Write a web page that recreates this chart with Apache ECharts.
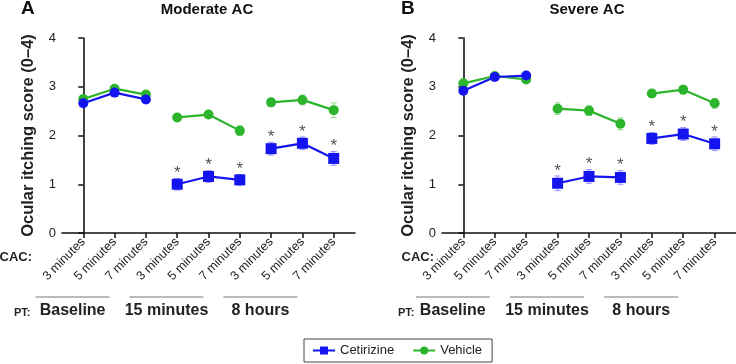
<!DOCTYPE html>
<html>
<head>
<meta charset="utf-8">
<script src="https://cdn.jsdelivr.net/npm/echarts@6/dist/echarts.min.js"></script>
<style>
html, body { margin: 0; padding: 0; background: #fff; }
#main { width: 736px; height: 364px; }
</style>
</head>
<body>
<div id="main"></div>
<script>
// CAC time points (x axis) and the PT groups they belong to
var cacLabels = ['3 minutes', '5 minutes', '7 minutes', '3 minutes', '5 minutes', '7 minutes', '3 minutes', '5 minutes', '7 minutes'];
var ptGroups = ['Baseline', '15 minutes', '8 hours'];
var yTicks = [0, 1, 2, 3, 4];

// panel A - moderate AC
var modCet = [2.66, 2.88, 2.74, 1.00, 1.16, 1.09, 1.73, 1.84, 1.53];
var modCetErr = [0.06, 0.05, 0.06, 0.12, 0.12, 0.11, 0.13, 0.13, 0.14];
var modVeh = [2.75, 2.96, 2.84, 2.37, 2.43, 2.10, 2.68, 2.73, 2.52];
var modVehErr = [0.05, 0.05, 0.05, 0.07, 0.07, 0.10, 0.08, 0.10, 0.15];
var modStars = [0, 0, 0, 1, 1, 1, 1, 1, 1];

// panel B - severe AC
var sevCet = [2.92, 3.20, 3.23, 1.02, 1.16, 1.14, 1.94, 2.03, 1.83];
var sevCetErr = [0.05, 0.05, 0.05, 0.15, 0.14, 0.14, 0.12, 0.13, 0.14];
var sevVeh = [3.07, 3.22, 3.15, 2.55, 2.51, 2.24, 2.86, 2.94, 2.66];
var sevVehErr = [0.05, 0.04, 0.04, 0.12, 0.10, 0.12, 0.08, 0.09, 0.10];
var sevStars = [0, 0, 0, 1, 1, 1, 1, 1, 1];

var BLUE = '#1414ee';
var GREEN = '#2cb52c';
var FONT = 'Liberation Sans, Arial, sans-serif';

var chart = echarts.init(document.getElementById('main'));

var panels = [
    { cet: modCet, cetErr: modCetErr, veh: modVeh, vehErr: modVehErr, stars: modStars },
    { cet: sevCet, cetErr: sevCetErr, veh: sevVeh, vehErr: sevVehErr, stars: sevStars }
];

function groupData(vals, g) {
    var out = [];
    for (var i = g * 3; i < g * 3 + 3; i++) out.push([i, vals[i]]);
    return out;
}

function errorBars(vals, errs, stars, color) {
    var data = vals.map(function (v, i) { return [i, v, errs[i], stars ? stars[i] : 0]; });
    return {
        data: data,
        renderItem: function (params, api) {
            var x = api.value(0), y = api.value(1), e = api.value(2);
            var top = api.coord([x, y + e]);
            var bot = api.coord([x, y - e]);
            var cap = 3;
            var kids = [
                { type: 'line', shape: { x1: top[0], y1: top[1], x2: bot[0], y2: bot[1] }, style: { stroke: color, lineWidth: 1 } },
                { type: 'line', shape: { x1: top[0] - cap, y1: top[1], x2: top[0] + cap, y2: top[1] }, style: { stroke: color, lineWidth: 1 } },
                { type: 'line', shape: { x1: bot[0] - cap, y1: bot[1], x2: bot[0] + cap, y2: bot[1] }, style: { stroke: color, lineWidth: 1 } }
            ];
            if (api.value(3)) {
                kids.push({
                    type: 'text',
                    style: { x: top[0], y: top[1] - 5, text: '*', fill: '#555', font: '17px ' + FONT, align: 'center', verticalAlign: 'middle' }
                });
            }
            return { type: 'group', children: kids };
        }
    };
}

var series = [];
panels.forEach(function (p, k) {
    // cetirizine treatment groups first so the legend picks the square symbol
    [1, 2, 0].forEach(function (g) {
        series.push({
            name: 'Cetirizine', type: 'line', xAxisIndex: k, yAxisIndex: k, z: 4,
            data: groupData(p.cet, g),
            symbol: g === 0 ? 'circle' : 'rect', symbolSize: g === 0 ? 10 : 11,
            itemStyle: { color: BLUE }, lineStyle: { color: BLUE, width: 2.2 }
        });
    });
    [0, 1, 2].forEach(function (g) {
        series.push({
            name: 'Vehicle', type: 'line', xAxisIndex: k, yAxisIndex: k, z: 3,
            data: groupData(p.veh, g),
            symbol: 'circle', symbolSize: 10,
            itemStyle: { color: GREEN }, lineStyle: { color: GREEN, width: 2.2 }
        });
    });
    var eb1 = errorBars(p.veh, p.vehErr, null, '#8fd98f');
    series.push({ type: 'custom', xAxisIndex: k, yAxisIndex: k, z: 2, silent: true, renderItem: eb1.renderItem, data: eb1.data });
    var eb2 = errorBars(p.cet, p.cetErr, p.stars, '#9090ff');
    series.push({ type: 'custom', xAxisIndex: k, yAxisIndex: k, z: 2, silent: true, renderItem: eb2.renderItem, data: eb2.data });
});

function xAxis(k) {
    return {
        type: 'value', gridIndex: k, min: -0.68, max: 8.68,
        splitLine: { show: false },
        axisLine: { lineStyle: { color: '#111', width: 1.6 } },
        axisTick: { show: true, length: 5, customValues: [0, 1, 2, 3, 4, 5, 6, 7, 8], lineStyle: { color: '#111', width: 1.5 } },
        axisLabel: {
            customValues: [0, 1, 2, 3, 4, 5, 6, 7, 8], rotate: 45, margin: 7,
            fontSize: 12.5, color: '#222', fontFamily: FONT,
            formatter: function (v) { return cacLabels[Math.round(v)]; }
        }
    };
}

function yAxis(k) {
    return {
        type: 'value', gridIndex: k, min: yTicks[0], max: yTicks[yTicks.length - 1], interval: 1,
        name: 'Ocular itching score (0\u20134)', nameLocation: 'middle', nameGap: 25,
        nameTextStyle: { fontSize: 16.5, fontWeight: 'bold', color: '#222', fontFamily: FONT },
        splitLine: { show: false },
        axisLine: { show: true, lineStyle: { color: '#111', width: 1.6 } },
        axisTick: { show: true, length: 5, lineStyle: { color: '#111', width: 1.5 } },
        axisLabel: { fontSize: 13, color: '#222', margin: 6, fontFamily: FONT }
    };
}

chart.setOption({
    animation: false,
    textStyle: { fontFamily: FONT },
    grid: [
        { left: 62, top: 38, width: 293, height: 195 },
        { left: 442, top: 38, width: 294, height: 195 }
    ],
    xAxis: [xAxis(0), xAxis(1)],
    yAxis: [yAxis(0), yAxis(1)],
    legend: {
        data: ['Cetirizine', 'Vehicle'],
        left: 304, top: 339,
        itemWidth: 22, itemHeight: 10, itemGap: 18,
        borderColor: '#444', borderWidth: 1, borderRadius: 0,
        padding: [5, 10, 5, 8],
        textStyle: { fontSize: 13, color: '#222', fontFamily: FONT }
    },
    series: series
});

// text and group lines below the axes, placed from the axis scale
var titles = [
    { letter: 'A', name: 'Moderate AC', letterX: 21, nameX: 207, cacRight: 32, ptX: 14 },
    { letter: 'B', name: 'Severe AC', letterX: 401, nameX: 587, cacRight: 434, ptX: 398 }
];
var graphics = [];
titles.forEach(function (t, k) {
    graphics.push({ type: 'text', x: t.letterX, y: 9, style: { text: t.letter, font: 'bold 19px ' + FONT, fill: '#111', verticalAlign: 'middle' } });
    graphics.push({ type: 'text', x: t.nameX, y: 10, style: { text: t.name, font: 'bold 15px ' + FONT, fill: '#111', align: 'center', verticalAlign: 'middle' } });
    graphics.push({ type: 'text', x: t.cacRight, y: 257, style: { text: 'CAC:', font: 'bold 13px ' + FONT, fill: '#222', align: 'right', verticalAlign: 'middle' } });
    graphics.push({ type: 'text', x: t.ptX, y: 313, style: { text: 'PT:', font: 'bold 11px ' + FONT, fill: '#222', verticalAlign: 'middle' } });
    ptGroups.forEach(function (g, gi) {
        var cx = chart.convertToPixel({ xAxisIndex: k }, gi * 3 + 1) - 42;
        graphics.push({ type: 'line', shape: { x1: cx - 37, y1: 297, x2: cx + 37, y2: 297 }, style: { stroke: '#777', lineWidth: 1 } });
        graphics.push({ type: 'text', x: cx, y: 311, style: { text: g, font: 'bold 16px ' + FONT, fill: '#222', align: 'center', verticalAlign: 'middle' } });
    });
});
chart.setOption({ graphic: graphics });
</script>
</body>
</html>
